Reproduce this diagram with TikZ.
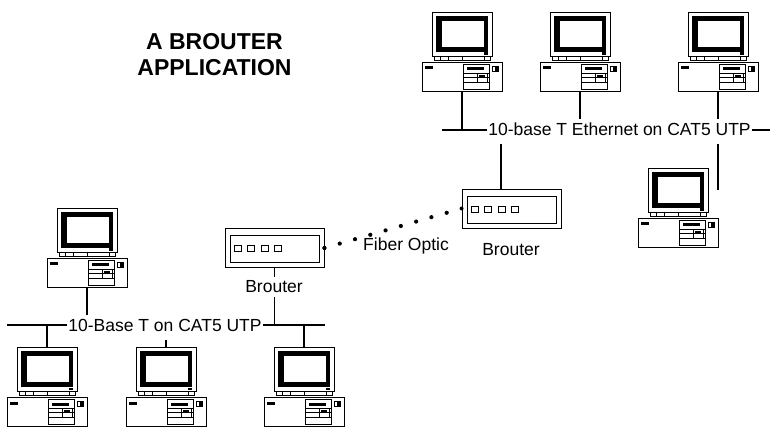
\documentclass[tikz,border=0pt]{standalone}
\usepackage{fontspec}
\setmainfont{Liberation Sans}
\usepackage{tikz}

\tikzset{
  lan/.style={line width=1.2pt},
  lanlabel/.style={fill=white, inner xsep=1.5pt, inner ysep=3.5pt, text depth=5pt,
    anchor=base, font=\fontsize{17.5}{21}\selectfont},
  devlabel/.style={anchor=base, inner sep=2pt, font=\fontsize{17.5}{21}\selectfont},
  heading/.style={align=center, font=\fontsize{23}{26}\selectfont\bfseries},
  fiber/.style={line width=4.2pt, line cap=round, dash pattern=on 0pt off 15.9pt},
  brouter/.style={draw, line width=0.9pt, minimum width=99pt, minimum height=39pt, inner sep=0pt,
    path picture={
      \draw[line width=0.8pt] ([shift={(5,7)}]path picture bounding box.north west)
        rectangle ([shift={(-5,-5)}]path picture bounding box.south east);
      \foreach \i in {0,...,3}
        \draw[line width=0.8pt] ([shift={(9+13.5*\i,17)}]path picture bounding box.north west) rectangle ++(7,6);
    }},
  computer/.pic={
    \begin{scope}[line width=0.8pt]
      \draw (-30,0) rectangle (30,44);
      \fill (-26,4) rectangle (26,40);
      \fill[white] (-20,9) rectangle (22,35);
      \fill (22,40.5) rectangle (26,43);
      \draw (-28,44) rectangle (28,48);
      \foreach \t in {-22,-14,0,22} \draw (\t,44) -- (\t,48);
      \draw (-40,50) rectangle (40,79);
      \fill (-37,54.5) rectangle (-29,57.5);
      \draw (1,52) rectangle (27,77);
      \fill (5,55.5) rectangle (22,58.5);
      \draw (1,61) -- (27,61) (1,65.5) -- (27,65.5) (1,70) -- (27,70);
      \draw (15,61) rectangle (25,70);
      \fill (17,63) rectangle (23,65.5);
      \draw (30,54) rectangle (36,59);
      \fill (33,54) rectangle (36,59);
    \end{scope}
    \coordinate (-top) at (0,0);
    \coordinate (-bot) at (0,79);
  }
}

\begin{document}
\begin{tikzpicture}[x=1pt,y=-1pt]
  \useasboundingbox (0,0) rectangle (770,427);

  \node[heading] (title) at (214.5,54.8) {A BROUTER\\APPLICATION};

  \pic (pcA) at (462,12) {computer};
  \pic (pcB) at (580,12) {computer};
  \pic (pcC) at (718,12) {computer};
  \pic (pcD) at (678,168) {computer};
  \pic (pcE) at (87,208) {computer};
  \pic (pcF) at (47,347) {computer};
  \pic (pcG) at (166,347) {computer};
  \pic (pcH) at (304,347) {computer};

  \node[brouter] (brL) at (274.5,248) {};
  \node[brouter] (brR) at (511.5,208.5) {};

  \coordinate (lanT-w) at (442,130);
  \coordinate (lanT-e) at (770,130);
  \coordinate (lanB-w) at (7,325);
  \coordinate (lanB-e) at (325,325);
  \coordinate (tapD) at (718,190);

  \draw[lan] (lanT-w) -- (lanT-e);
  \draw[lan] (pcA-bot) -- (pcA-bot |- lanT-w);
  \draw[lan] (pcB-bot) -- (pcB-bot |- lanT-w);
  \draw[lan] (pcC-bot) -- (tapD);
  \draw[lan] ([xshift=-10.5pt]brR.north) -- ([xshift=-10.5pt]brR.north |- lanT-w);

  \draw[lan] (lanB-w) -- (lanB-e);
  \draw[lan] (pcE-bot) -- (pcE-bot |- lanB-w);
  \draw[lan] (pcF-top) -- (pcF-top |- lanB-w);
  \draw[lan] (pcG-top) -- (pcG-top |- lanB-w);
  \draw[lan] (pcH-top) -- (pcH-top |- lanB-w);
  \draw[lan] (brL.south) -- (brL.south |- lanB-w);

  \draw[fiber] (brL.east) -- (brR.west);
  \fill (brL.east) circle (2);
  \fill (brR.west) circle (2);

  \node[lanlabel] (lblT) at (619.5,135.5) {10-base T Ethernet on CAT5 UTP};
  \node[lanlabel] (lblB) at (165,331) {10-Base T on CAT5 UTP};
  \node[devlabel] (lblF) at (406,251) {Fiber Optic};
  \node[devlabel] (lblR) at (511,256) {Brouter};
  \node[devlabel, fill=white, inner ysep=4pt] (lblL) at (274,293) {Brouter};
\end{tikzpicture}
\end{document}
